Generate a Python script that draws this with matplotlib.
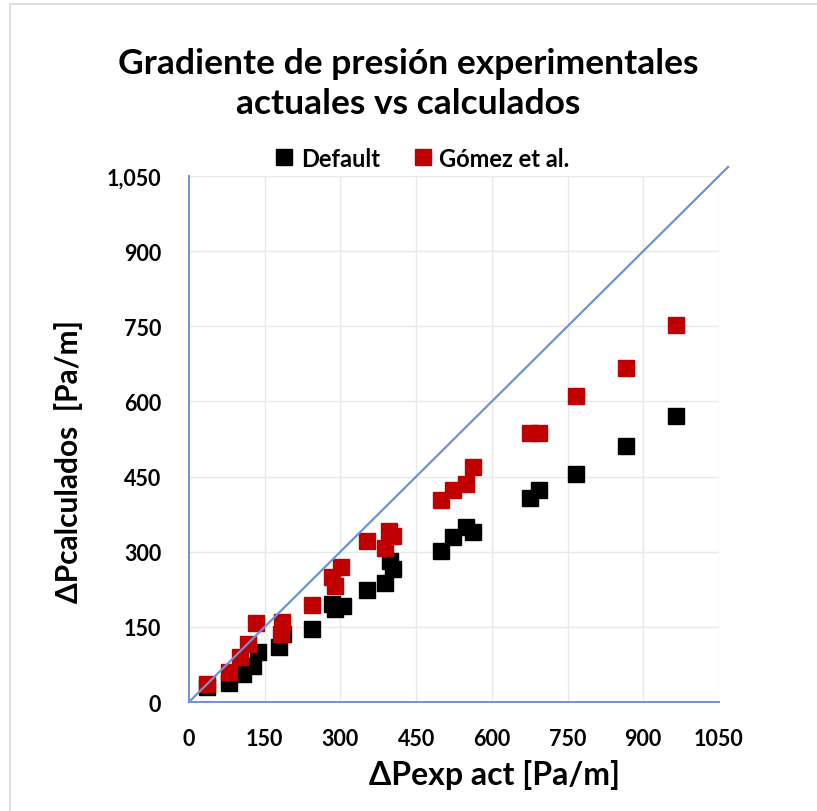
import matplotlib.pyplot as plt
from matplotlib.patches import Rectangle

# Experimental vs calculated pressure gradient [Pa/m]
dp_exp_default = [35, 80, 108, 127, 136, 179, 187, 243, 283, 289, 306, 353,
                  388, 398, 405, 499, 524, 548, 563, 676, 693, 766, 865, 964]
dp_calc_default = [30, 38, 56, 72, 100, 109, 136, 146, 196, 186, 192, 224,
                   238, 282, 265, 301, 330, 350, 340, 407, 423, 455, 512, 570]

dp_exp_gomez = [35, 80, 101, 117, 132, 184, 182, 243, 283, 289, 302, 353,
                388, 397, 405, 499, 524, 548, 563, 676, 693, 766, 866, 965]
dp_calc_gomez = [36, 59, 89, 116, 157, 159, 136, 194, 249, 232, 269, 322,
                 307, 342, 332, 404, 424, 435, 470, 538, 538, 611, 667, 752]

ticks = [0, 150, 300, 450, 600, 750, 900, 1050]
x_ticklabels = ["0", "150", "300", "450", "600", "750", "900", "1050"]
y_ticklabels = ["0", "150", "300", "450", "600", "750", "900", "1,050"]

plt.rcParams['font.family'] = ['Lato', 'DejaVu Sans']

fig = plt.figure(figsize=(8.17, 8.12), dpi=100)
fig.patches.append(Rectangle((0.012, -0.01), 1.0, 1.004, transform=fig.transFigure,
                             fill=False, edgecolor='#d9d9d9', linewidth=1.2))
ax = fig.add_axes([0.2313, 0.1342, 0.6487, 0.6478])

ax.plot(dp_exp_default, dp_calc_default, linestyle='none', marker='s', markersize=12,
        color='black', label='Default', zorder=3)
ax.plot(dp_exp_gomez, dp_calc_gomez, linestyle='none', marker='s', markersize=12,
        color='#c00000', label='Gómez et al.', zorder=4)
# 1:1 reference line
ax.plot([0, 1068], [0, 1068], color='#6b93d6', linewidth=1.6, zorder=5, clip_on=False)

ax.set_xlim(0, 1050)
ax.set_ylim(0, 1050)
ax.set_xticks(ticks)
ax.set_yticks(ticks)
ax.set_xticklabels(x_ticklabels, fontsize=15.5, fontweight='bold')
ax.set_yticklabels(y_ticklabels, fontsize=15.5, fontweight='bold')
ax.tick_params(axis='x', length=0, pad=19)
ax.tick_params(axis='y', length=0, pad=20)
ax.grid(True, color='#e8e8e8', linewidth=1)
ax.set_axisbelow(True)
for side in ['top', 'right']:
    ax.spines[side].set_visible(False)
for side in ['left', 'bottom']:
    ax.spines[side].set_color('#6b93d6')
    ax.spines[side].set_linewidth(1.4)

ax.set_xlabel("ΔPexp act [Pa/m]", fontsize=23, fontweight='bold')
ax.xaxis.set_label_coords(0.577, -0.108)
ax.set_ylabel("ΔPcalculados  [Pa/m]", fontsize=21.5, fontweight='bold')
ax.yaxis.set_label_coords(-0.2, 0.46)

fig.text(0.5, 0.897, "Gradiente de presión experimentales\nactuales vs calculados",
         ha='center', va='center', fontsize=25.5, fontweight='bold', linespacing=1.3)

ax.legend(loc='center', bbox_to_anchor=(0.44, 1.034), ncol=2, frameon=False,
          prop={'weight': 'bold', 'size': 17}, handlelength=0.8,
          handletextpad=0.3, columnspacing=1.4, markerscale=1.0)

plt.savefig("out.png", dpi=100)
plt.close()
